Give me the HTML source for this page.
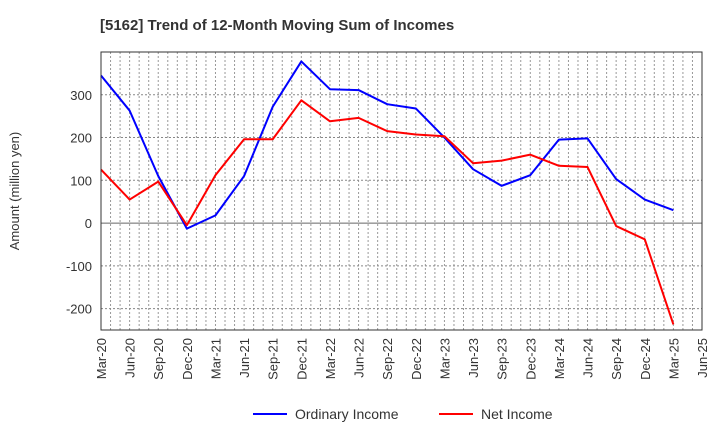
<!DOCTYPE html>
<html><head><meta charset="utf-8"><style>
body{margin:0;background:#fff;font-family:"Liberation Sans",sans-serif;}
</style></head><body>
<svg width="720" height="440" xmlns="http://www.w3.org/2000/svg" font-family="Liberation Sans, sans-serif">
<text x="100" y="30" font-size="15" font-weight="bold" fill="#333">[5162]  Trend of 12-Month Moving Sum of Incomes</text>
<text transform="translate(19,191) rotate(-90)" text-anchor="middle" font-size="13" fill="#333">Amount (million yen)</text>
<g id="grid"></g>
<g id="series"></g>
<rect x="101" y="52" width="601" height="278" fill="none" stroke="#333" stroke-width="1"/>
<g id="axes"></g>
<g>
<line x1="253" y1="414" x2="287" y2="414" stroke="#0000ff" stroke-width="2"/>
<text x="295" y="419" font-size="14" fill="#333">Ordinary Income</text>
<line x1="439" y1="414" x2="473" y2="414" stroke="#ff0000" stroke-width="2"/>
<text x="481" y="419" font-size="14" fill="#333">Net Income</text>
</g>
</svg>
<script>
const categories=["Mar-20","Jun-20","Sep-20","Dec-20","Mar-21","Jun-21","Sep-21","Dec-21","Mar-22","Jun-22","Sep-22","Dec-22","Mar-23","Jun-23","Sep-23","Dec-23","Mar-24","Jun-24","Sep-24","Dec-24","Mar-25","Jun-25"];
const ordinaryIncome=[345,263,110,-13,18,110,272,378,313,311,278,268,200,126,87,112,195,198,103,55,30];
const netIncome=[125,55,97,-5,112,196,196,287,238,246,215,207,203,140,146,160,134,131,-7,-38,-237];
const yTicks=[-200,-100,0,100,200,300];
const NS="http://www.w3.org/2000/svg";
const L=101,R=702,T=52,B=330,yMin=-250,yMax=400;
const xs=i=>L+(R-L)*i/(categories.length-1);
const ys=v=>B-(v-yMin)/(yMax-yMin)*(B-T);
function mk(t,a,p){const e=document.createElementNS(NS,t);for(const k in a)e.setAttribute(k,a[k]);p.appendChild(e);return e;}
const grid=document.getElementById('grid'),axes=document.getElementById('axes'),series=document.getElementById('series');
for(let m=1;m<(categories.length-1)*3;m++){
  const x=L+(R-L)*m/((categories.length-1)*3);
  const g=mk('line',{x1:x,x2:x,y1:T,y2:B,stroke:'#999','stroke-width':1,'stroke-dasharray':'2,2'},grid);
  
  
}
yTicks.forEach(v=>{
  const y=ys(v);
  const g=mk('line',{x1:L,x2:R,y1:y,y2:y,stroke:v===0?'#666':'#888','stroke-width':1,'stroke-dasharray':v===0?'':'2,2'},grid);
  
  
  const t=mk('text',{x:L-9,y:y+5,'text-anchor':'end','font-size':13,fill:'#333'},axes);
  t.textContent=v;
  
  
});
categories.forEach((c,i)=>{
  const x=xs(i);
  const t=mk('text',{transform:`translate(${x+5},${B+8}) rotate(-90)`,'text-anchor':'end','font-size':13,fill:'#333'},axes);
  t.textContent=c;
  
  
});
function line(data,color,name){
  const p=mk('polyline',{points:data.map((v,i)=>xs(i)+','+ys(v)).join(' '),fill:'none',stroke:color,'stroke-width':2,'stroke-linejoin':'round'},series);
  
  
}
line(ordinaryIncome,'#0000ff','ordinary-income-line');
line(netIncome,'#ff0000','net-income-line');
</script>
</body></html>
